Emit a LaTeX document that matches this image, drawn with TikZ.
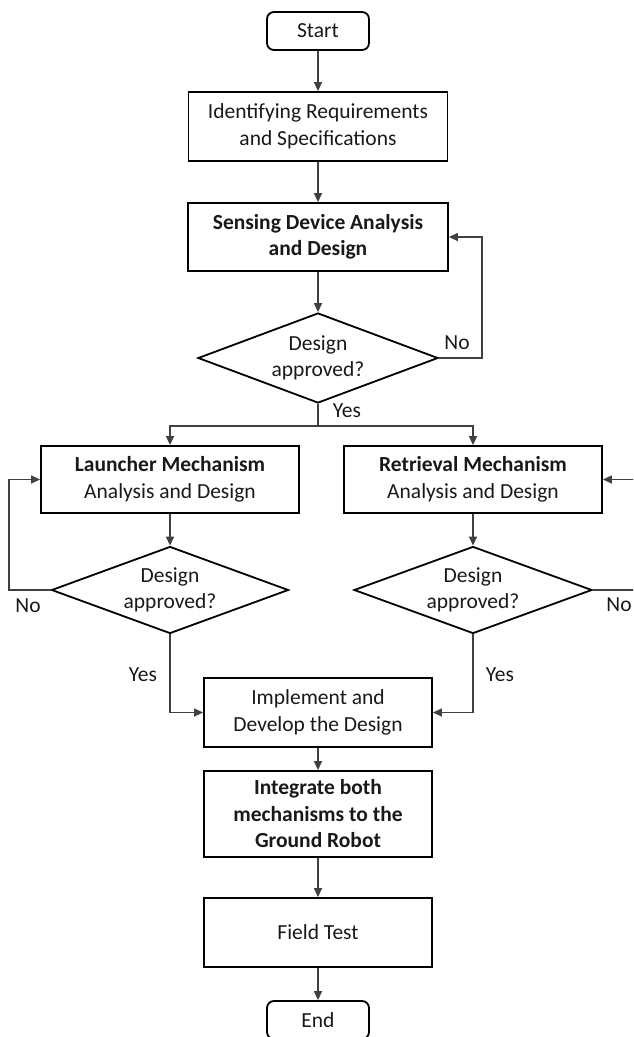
\documentclass[tikz,border=0pt]{standalone}
\usepackage{fontspec}
\setmainfont{Carlito}
\usetikzlibrary{shapes.geometric,arrows.meta}

\tikzset{
  txt/.style={font=\fontsize{21.5}{26.5}\selectfont, text=black!90},
  box/.style={txt, draw=black, line width=1.8pt, rectangle, align=center, inner sep=0pt},
  term/.style={box, rounded corners=7pt, minimum width=102pt, minimum height=38pt},
  decision/.style={draw=black, line width=1.8pt, diamond, inner sep=0pt},
  dtext/.style={txt, align=center, inner sep=0pt},
  flow/.style={draw=black!75, line width=1.3pt, -{Triangle[length=9pt,width=8pt]}},
  line/.style={draw=black!75, line width=1.3pt},
  lbl/.style={txt, inner sep=0pt}
}

\begin{document}
\begin{tikzpicture}[x=1pt,y=-1pt]
\useasboundingbox (0,0) rectangle (633,1037);
\clip (0,0) rectangle (633,1037);

% process steps
\node[term] (start) at (318,31) {Start};
\node[box, minimum width=259pt, minimum height=69pt] (req) at (318,126.5)
  {Identifying Requirements\\and Specifications};
\node[box, minimum width=260pt, minimum height=68pt] (sense) at (318,237)
  {\textbf{Sensing Device Analysis}\\\textbf{and Design}};
\node[decision, minimum width=240pt, minimum height=90pt] (d1) at (318,358) {};
\node[dtext] (d1t) at (d1.center) {Design\\approved?};

\node[box, minimum width=258pt, minimum height=67pt] (launch) at (170,479.5)
  {\textbf{Launcher Mechanism}\\Analysis and Design};
\node[box, minimum width=258pt, minimum height=67pt] (retr) at (473,479.5)
  {\textbf{Retrieval Mechanism}\\Analysis and Design};
\node[decision, minimum width=237pt, minimum height=87pt] (d2) at (170,590) {};
\node[dtext] (d2t) at (d2.center) {Design\\approved?};
\node[decision, minimum width=238pt, minimum height=87pt] (d3) at (473,590) {};
\node[dtext] (d3t) at (d3.center) {Design\\approved?};

\node[box, minimum width=228pt, minimum height=69pt] (impl) at (318,712.5)
  {Implement and\\Develop the Design};
\node[box, minimum width=228pt, minimum height=86pt] (integ) at (318,814)
  {\textbf{Integrate both}\\\textbf{mechanisms to the}\\\textbf{Ground Robot}};
\node[box, minimum width=228pt, minimum height=69pt] (field) at (318,932.5)
  {Field Test};
\node[term] (end) at (318,1020) {End};

% main flow
\draw[flow] (start) -- (req);
\draw[flow] (req) -- (sense);
\draw[flow] (sense) -- (d1);

% loop back from the first decision
\coordinate (r1) at (482,358);
\draw[flow] (d1.east) -- (r1) |- (sense.east);
\node[lbl] (no1) at (457,343) {No};

% split into the two mechanisms
\coordinate (split) at (318,426);
\draw[line] (d1.south) -- (split);
\draw[flow] (split) -| (launch.north);
\draw[flow] (split) -| (retr.north);
\node[lbl] (yes1) at (347,411) {Yes};

\draw[flow] (launch) -- (d2);
\draw[flow] (retr) -- (d3);

% loops back from the mechanism decisions
\coordinate (l2) at (9,590);
\draw[flow] (d2.west) -- (l2) |- (launch.west);
\node[lbl] (no2) at (28,606) {No};

\coordinate (r3) at (645,590);
\draw[flow] (d3.east) -- (r3) |- (retr.east);
\node[lbl] (no3) at (619,605) {No};

% approved designs join
\draw[flow] (d2.south) |- (impl.west);
\draw[flow] (d3.south) |- (impl.east);
\node[lbl] (yes2) at (143,675) {Yes};
\node[lbl] (yes3) at (500,675) {Yes};

\draw[flow] (impl) -- (integ);
\draw[flow] (integ) -- (field);
\draw[flow] (field) -- (end);
\end{tikzpicture}
\end{document}
